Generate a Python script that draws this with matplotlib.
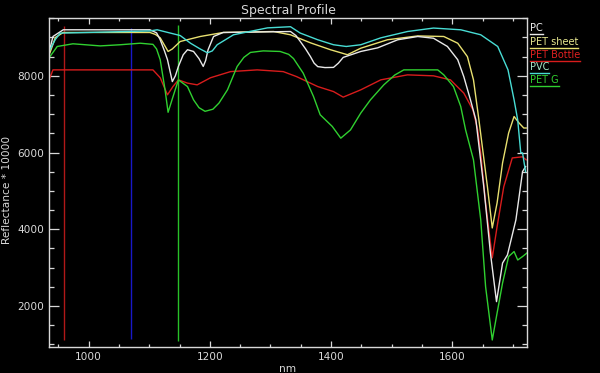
import numpy as np
import matplotlib.pyplot as plt
from matplotlib.lines import Line2D
from matplotlib.ticker import MultipleLocator

# spectra (nm, reflectance * 10000)
pc_nm = [936, 941, 958, 1101, 1112, 1118, 1125, 1130, 1138, 1143, 1148, 1156, 1163, 1173,
         1182, 1189, 1193, 1197, 1206, 1222, 1333, 1342, 1349, 1358, 1366, 1372, 1378, 1390,
         1404, 1412, 1420, 1449, 1477, 1510, 1543, 1569, 1592, 1609, 1619, 1630, 1639, 1652,
         1663, 1673, 1683, 1691, 1705, 1716, 1721]
pc_val = [8700, 9025, 9200, 9200, 9120, 8940, 8650, 8420, 7850, 8000, 8245, 8550, 8680, 8635,
          8450, 8245, 8400, 8680, 9025, 9130, 9155, 9050, 8900, 8700, 8500, 8330, 8240, 8215,
          8220, 8330, 8480, 8635, 8730, 8940, 9025, 8980, 8765, 8420, 7980, 7375, 6850, 5110,
          3380, 2115, 3120, 3330, 4245, 5505, 5635]

sheet_nm = [936, 945, 958, 1101, 1110, 1118, 1131, 1138, 1151, 1184, 1222, 1305, 1333, 1366,
            1399, 1427, 1449, 1493, 1543, 1586, 1609, 1625, 1635, 1644, 1658, 1666, 1674,
            1683, 1693, 1702, 1710, 1718, 1722]
sheet_val = [8600, 9000, 9130, 9130, 9080, 8990, 8635, 8700, 8895, 9025, 9130, 9155, 9070, 8860,
             8680, 8550, 8720, 8940, 9040, 9025, 8850, 8500, 7895, 6850, 5110, 4035, 4690,
             5730, 6510, 6940, 6775, 6640, 6640]

bottle_nm = [936, 941, 1106, 1118, 1130, 1139, 1148, 1163, 1179, 1201, 1234, 1278, 1321, 1343,
             1378, 1404, 1420, 1449, 1482, 1526, 1569, 1597, 1619, 1634, 1642, 1647, 1655,
             1666, 1674, 1685, 1699, 1716, 1722]
bottle_val = [7950, 8155, 8155, 7950, 7505, 7720, 7895, 7810, 7765, 7950, 8110, 8155, 8110, 7980,
              7720, 7590, 7445, 7635, 7895, 8025, 8000, 7895, 7550, 7115, 6590, 5990, 4690,
              3255, 4070, 5110, 5860, 5890, 5810]

pvc_nm = [936, 945, 953, 1101, 1113, 1151, 1168, 1184, 1196, 1204, 1212, 1239, 1295, 1333,
          1349, 1378, 1404, 1425, 1449, 1482, 1526, 1569, 1614, 1647, 1675, 1692, 1702, 1708,
          1713, 1716, 1721]
pvc_val = [8680, 8950, 9113, 9170, 9200, 9050, 8850, 8700, 8600, 8650, 8810, 9070, 9250, 9280,
           9115, 8940, 8810, 8765, 8810, 8990, 9155, 9245, 9200, 9070, 8765, 8155, 7375, 6850,
           6000, 5990, 5500]

petg_nm = [936, 948, 974, 1019, 1052, 1085, 1106, 1112, 1118, 1126, 1131, 1139, 1148, 1163,
           1173, 1182, 1192, 1205, 1215, 1229, 1245, 1256, 1267, 1288, 1316, 1330, 1338, 1354,
           1371, 1382, 1402, 1416, 1432, 1449, 1465, 1487, 1505, 1520, 1576, 1586, 1602, 1614,
           1622, 1635, 1647, 1655, 1666, 1674, 1683, 1693, 1702, 1708, 1716, 1723]
petg_val = [8500, 8765, 8835, 8780, 8810, 8850, 8820, 8700, 8420, 7635, 7050, 7450, 7895, 7720,
            7375, 7170, 7075, 7130, 7290, 7635, 8245, 8480, 8610, 8650, 8635, 8560, 8450, 8070,
            7460, 6985, 6680, 6375, 6590, 7030, 7375, 7765, 8020, 8155, 8155, 8025, 7720, 7200,
            6590, 5810, 4245, 2505, 1115, 1820, 2600, 3290, 3420, 3200, 3290, 3380]

# band markers (nm, bottom, top)
markers_nm = [958.5, 1070.5, 1148]
markers_lo = [1110, 1140, 1090]
markers_hi = [9290, 9250, 9330]
markers_col = ['#b01818', '#1818c8', '#28c028']

names = ['PC', 'PET sheet', 'PET Bottle', 'PVC', 'PET G']
line_cols = ['#e8e8e8', '#e8e070', '#d81c1c', '#48dcd4', '#30d030']
text_cols = ['#f0f0f0', '#e8e890', '#e02020', '#a8e8c8', '#30d030']
fg = '#d8d8d8'

fig = plt.figure(figsize=(6, 3.73), dpi=100, facecolor='black')
ax = fig.add_axes([0.0822, 0.0705, 0.7958, 0.8805], facecolor='black')

for x, lo, hi, c in zip(markers_nm, markers_lo, markers_hi, markers_col):
    ax.vlines(x, lo, hi, color=c, lw=1.0)

series = [(pc_nm, pc_val), (sheet_nm, sheet_val), (bottle_nm, bottle_val),
          (pvc_nm, pvc_val), (petg_nm, petg_val)]
order = [2, 4, 1, 0, 3]
for i in order:
    ax.plot(series[i][0], series[i][1], color=line_cols[i], lw=1.0)

ax.set_xlim(935, 1723)
ax.set_ylim(940, 9500)
ax.set_xticks([1000, 1200, 1400, 1600])
ax.set_yticks([2000, 4000, 6000, 8000])
ax.xaxis.set_minor_locator(MultipleLocator(50))
ax.yaxis.set_minor_locator(MultipleLocator(500))
ax.tick_params(axis='both', which='both', direction='in', colors=fg, labelsize=7.6,
               top=True, right=True, width=0.9)
ax.tick_params(axis='x', which='major', length=4)
ax.tick_params(axis='x', which='minor', length=2)
ax.tick_params(axis='y', which='major', length=7)
ax.tick_params(axis='y', which='minor', length=3.5)
for s in ax.spines.values():
    s.set_color(fg)
    s.set_linewidth(1.0)

ax.set_title('Spectral Profile', color=fg, fontsize=9, pad=3)
ax.set_xlabel('nm', color=fg, fontsize=7.6, labelpad=2)
fig.text(0.012, 0.49, 'Reflectance * 10000', rotation=90, color=fg, fontsize=7.6,
         ha='center', va='center')

# legend outside the plot, underlined names
fig.canvas.draw()
r = fig.canvas.get_renderer()
leg_y = [28, 42, 55, 67, 80]
for name, tc, lc, py in zip(names, text_cols, line_cols, leg_y):
    t = fig.text(530 / 600, 1 - py / 373, name, color=tc, fontsize=7, ha='left', va='center')
    bb = t.get_window_extent(r)
    yl = py + 5.5
    fig.add_artist(Line2D([bb.x0 / 600, bb.x1 / 600], [1 - yl / 373, 1 - yl / 373],
                          color=lc, lw=1.0, transform=fig.transFigure))

fig.savefig('out.png', dpi=100, facecolor='black')
